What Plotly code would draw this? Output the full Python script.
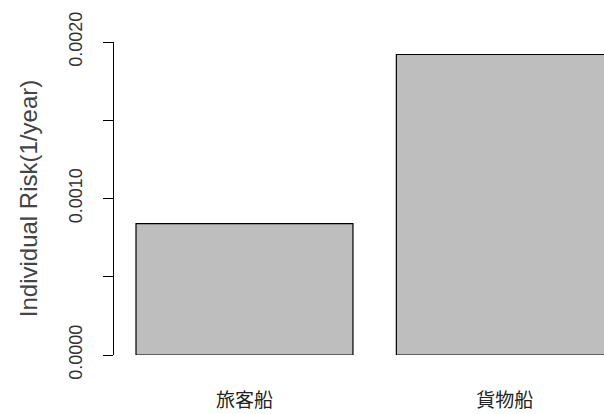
import plotly.graph_objects as go

# Individual risk per vessel type
categories = ["旅客船", "貨物船"]
risk_values = [0.00084, 0.00192]

# barplot-style positions: width 1, spacing 0.2
bar_width = 1.0
bar_space = 0.2
bar_centers = [bar_space + bar_width / 2 + i * (bar_width + bar_space) for i in range(len(categories))]

y_tick_vals = [0.0, 0.0005, 0.0010, 0.0015, 0.0020]
y_tick_text = ["0.0000", "", "0.0010", "", "0.0020"]

fig = go.Figure(
    go.Bar(
        x=bar_centers,
        y=risk_values,
        width=bar_width,
        marker=dict(color="#bebebe", line=dict(color="black", width=1.2)),
        showlegend=False,
        hoverinfo="skip",
    )
)

fig.update_layout(
    width=604,
    height=414,
    margin=dict(l=114, r=0, t=42, b=59),
    paper_bgcolor="white",
    plot_bgcolor="white",
    font=dict(family="Liberation Sans, Arial, sans-serif", color="#222222"),
    xaxis=dict(
        range=[0.0986, 2.357],
        tickvals=bar_centers,
        ticktext=categories,
        tickfont=dict(family="Noto Sans CJK JP", size=19, color="#222222"),
        showline=False,
        showgrid=False,
        zeroline=False,
        ticks="",
        ticklabelstandoff=32,
    ),
    yaxis=dict(
        range=[0, 0.0020],
        tickvals=y_tick_vals,
        ticktext=y_tick_text,
        tickangle=-90,
        tickfont=dict(size=18, color="#333333"),
        ticks="outside",
        ticklen=10,
        tickwidth=1.2,
        tickcolor="black",
        showline=True,
        linecolor="black",
        linewidth=1.2,
        showgrid=False,
        zeroline=False,
        ticklabelstandoff=14,
        title=dict(
            text="Individual Risk(1/year)",
            font=dict(size=24, color="#444444"),
            standoff=21,
        ),
    ),
)

fig.write_html("out.html")
